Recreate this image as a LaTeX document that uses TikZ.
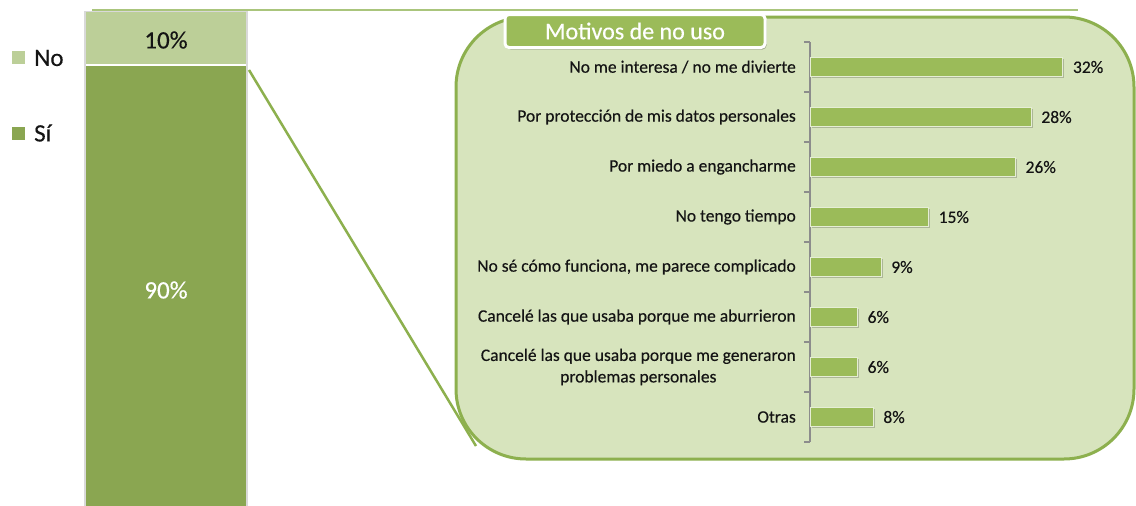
\documentclass[tikz,border=0pt]{standalone}
\usepackage{fontspec}
\setmainfont{Carlito}[FakeBold=0.35]
\usetikzlibrary{shadows}
\definecolor{lightG}{HTML}{BCCF98}
\definecolor{darkG}{HTML}{8AA651}
\definecolor{barG}{HTML}{9BBB59}
\definecolor{boxFill}{HTML}{D7E4BD}
\definecolor{boxLine}{HTML}{8DB04E}
\definecolor{topLine}{HTML}{AAC57C}
\definecolor{axisGray}{HTML}{8C8C8C}
\definecolor{txt}{HTML}{141414}
\begin{document}
\begin{tikzpicture}[x=1pt,y=-1pt,
  cat/.style={anchor=east,align=right,font=\fontsize{17.5}{21.5}\selectfont,text=txt,inner sep=0pt},
  val/.style={anchor=west,font=\fontsize{17.5}{21}\selectfont,text=txt,inner sep=0pt},
  hbar/.style={fill=barG,draw=white!75!barG,line width=0.8pt,drop shadow={shadow xshift=1.5pt,shadow yshift=-1.5pt,fill=black,opacity=0.2}},
  big/.style={font=\fontsize{25}{30}\selectfont,inner sep=0pt},
]
\useasboundingbox (0,0) rectangle (1136,506);
\fill[white] (0,0) rectangle (1136,506);

% top line
\coordinate (tl1) at (92,10);
\coordinate (tl2) at (1078,10);
\draw[topLine,line width=2.5pt] (tl1) -- (tl2);

% left stacked bar
\draw[black!15,line width=2pt] (85,12) rectangle (247,520);
\fill[lightG] (86,12) rectangle (246,65);
\fill[darkG] (86,65) rectangle (246,520);
\draw[white,line width=1.2pt] (86,65) -- (246,65);
\node[big,text=txt] (p10) at (166,40) {10\%};
\node[big,text=white] (p90) at (166,290) {90\%};

% legend
\fill[lightG] (12,51) rectangle (25,64);
\node[big,anchor=west,text=txt] (lNo) at (34,58) {No};
\fill[darkG] (12,127) rectangle (25,140);
\node[big,anchor=west,text=txt] (lSi) at (34,133) {Sí};

% rounded panel
\draw[boxLine,fill=boxFill,line width=3pt,rounded corners=70pt] (456,17) rectangle (1134,459);

% connector
\coordinate (c1) at (249,70);
\coordinate (c2) at (476,446);
\draw[boxLine,line width=2.5pt] (c1) -- (c2);

% title
\node[fill=barG,draw=white,line width=3pt,rounded corners=4pt,minimum width=260pt,minimum height=33pt,
  text=white,font=\fontsize{24}{28}\selectfont,inner sep=0pt,
  drop shadow={shadow xshift=1.5pt,shadow yshift=-2pt,fill=black,opacity=0.25}] (title) at (635,31) {Motivos de no uso};

% axis
\draw[axisGray,line width=1.2pt] (810,42) -- (810,442);
\foreach \k in {0,...,8} {
  \draw[axisGray,line width=1.2pt] (804,42+50*\k) -- (810,42+50*\k);
}

% bars
\foreach \v [count=\i] in {32,28,26,15,9,6,6,8} {
  \pgfmathsetmacro\yc{67+50*(\i-1)}
  \pgfmathsetmacro\xe{810+7.9*\v}
  \path[hbar] (810,\yc-9.5) rectangle (\xe,\yc+9.5);
  \node[val] (v\i) at (\xe+10,\yc) {\v\%};
}

% categories
\node[cat] (k1) at (796,67) {No me interesa / no me divierte};
\node[cat] (k2) at (796,117) {Por protección de mis datos personales};
\node[cat] (k3) at (796,167) {Por miedo a engancharme};
\node[cat] (k4) at (796,217) {No tengo tiempo};
\node[cat] (k5) at (796,267) {No sé cómo funciona, me parece complicado};
\node[cat] (k6) at (796,317) {Cancelé las que usaba porque me aburrieron};
\node[cat,align=center] (k7) at (796,367) {Cancelé las que usaba porque me generaron\\problemas personales};
\node[cat] (k8) at (796,417) {Otras};
\end{tikzpicture}
\end{document}
